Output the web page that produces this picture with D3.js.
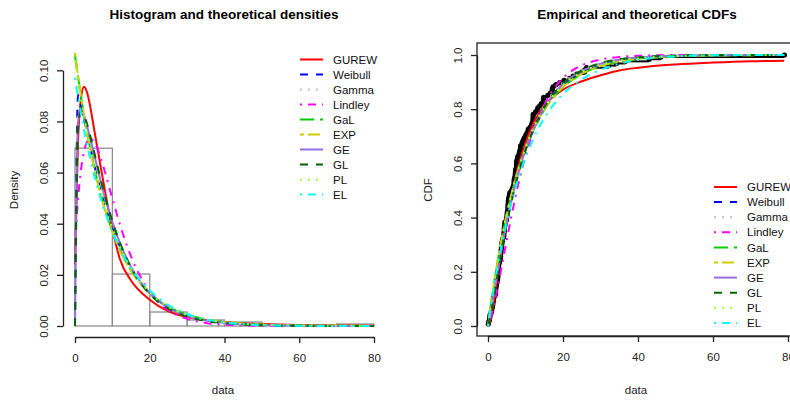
<!DOCTYPE html>
<meta charset="utf-8">
<style>
body { margin: 0; background: #fff; }
svg { font-family: "Liberation Sans", Arial, Helvetica, sans-serif; }
.axis path, .axis line { stroke: #222; stroke-width: 1.3px; }
.axis text { font-size: 11.5px; fill: #222; }
.title { font-size: 13.5px; font-weight: bold; }
.lab { font-size: 11.5px; fill: #222; }
.leg { font-size: 11.5px; fill: #111; }
.curve { fill: none; stroke-width: 2px; }
</style>
<body>
<script src="https://d3js.org/d3.v7.min.js"></script>
<script>

// remission times (months), 128 values
let remission = [0.08, 2.09, 3.48, 4.87, 6.94, 8.66, 13.11, 23.63, 0.20, 2.23, 3.52, 4.98, 6.97, 9.02,
  13.29, 0.40, 2.26, 3.57, 5.06, 7.09, 9.22, 13.80, 25.74, 0.50, 2.46, 3.64, 5.09, 7.26, 9.47, 14.24,
  25.82, 0.51, 2.54, 3.70, 5.17, 7.28, 9.74, 14.76, 26.31, 0.81, 2.62, 3.82, 5.32, 7.32, 10.06, 14.77,
  32.15, 2.64, 3.88, 5.32, 7.39, 10.34, 14.83, 34.26, 0.90, 2.69, 4.18, 5.34, 7.59, 10.66, 15.96, 36.66,
  1.05, 2.69, 4.23, 5.41, 7.62, 10.75, 16.62, 43.01, 1.19, 2.75, 4.26, 5.41, 7.63, 17.12, 46.12, 1.26,
  2.83, 4.33, 5.49, 7.66, 11.25, 17.14, 79.05, 1.35, 2.87, 5.62, 7.87, 11.64, 17.36, 1.40, 3.02, 4.34,
  5.71, 7.93, 11.79, 18.10, 1.46, 4.40, 5.85, 8.26, 11.98, 19.13, 1.76, 3.25, 4.50, 6.25, 8.37, 12.02,
  2.02, 3.31, 4.51, 6.54, 8.53, 12.03, 20.28, 2.02, 3.36, 6.76, 12.07, 21.73, 2.07, 3.36, 6.93, 8.65,
  12.63, 22.69];

let models = ["GUREW", "Weibull", "Gamma", "Lindley", "GaL", "EXP", "GE", "GL", "PL", "EL"];

let xTicks = [0, 20, 40, 60, 80];
let densTicks = [0, 0.02, 0.04, 0.06, 0.08, 0.10];
let cdfTicks = [0, 0.2, 0.4, 0.6, 0.8, 1.0];
let binEdges = [0, 10, 20, 30, 40, 50, 60, 70, 80];

// x positions where the fitted curves were read
let densX = [0, 0.8, 1.6, 2.4, 3.2, 4, 5, 6, 8, 10, 12, 15, 20, 25, 30, 35, 40, 50, 60, 70, 80];
let cdfX  = [0, 0.8, 1.6, 2.4, 3.2, 4, 5, 6, 8, 10, 12, 15, 20, 25, 30, 35, 40, 50, 60, 70, 79];

let densGUREW   = [0.024, 0.072, 0.089, 0.0936, 0.0915, 0.0864, 0.078, 0.0695, 0.053, 0.038, 0.0262, 0.0178, 0.0103, 0.0057, 0.0035, 0.0023, 0.0015, 0.0008, 0.0004, 0.0002, 0.0001];
let densWeibull = [0, 0.0903, 0.0863, 0.0811, 0.0757, 0.0704, 0.0640, 0.0580, 0.0474, 0.0385, 0.0311, 0.0225, 0.0130, 0.0074, 0.0042, 0.0024, 0.0013, 0.0004, 0.0001, 0.00004, 0.00001];
let densGamma   = [0, 0.0824, 0.0840, 0.0815, 0.0775, 0.0728, 0.0668, 0.0608, 0.0497, 0.0403, 0.0323, 0.0231, 0.0130, 0.0072, 0.0040, 0.0022, 0.0012, 0.00035, 0.0001, 0.00003, 0.00001];
let densLindley = [0.0321, 0.0494, 0.0610, 0.0682, 0.0720, 0.0734, 0.0723, 0.0694, 0.0603, 0.0498, 0.0398, 0.0272, 0.0134, 0.0062, 0.0028, 0.0012, 0.0005, 0.0001, 0, 0, 0];
let densGaL     = [0.1058, 0.0975, 0.0897, 0.0826, 0.0760, 0.0699, 0.0630, 0.0567, 0.0459, 0.0371, 0.0300, 0.0218, 0.0128, 0.0075, 0.0044, 0.0026, 0.0015, 0.0005, 0.0002, 0.0001, 0];
let densEXP     = [0.1068, 0.0981, 0.0900, 0.0827, 0.0759, 0.0697, 0.0626, 0.0563, 0.0455, 0.0367, 0.0296, 0.0215, 0.0126, 0.0074, 0.0043, 0.0025, 0.0015, 0.0005, 0.0002, 0.0001, 0];
let densGE      = [0, 0.0797, 0.0833, 0.0817, 0.0782, 0.0738, 0.0678, 0.0618, 0.0504, 0.0407, 0.0325, 0.0231, 0.0128, 0.0071, 0.0039, 0.0021, 0.0012, 0.0003, 0.0001, 0, 0];
let densGL      = [0, 0.0770, 0.0838, 0.0826, 0.0792, 0.0748, 0.0688, 0.0627, 0.0510, 0.0410, 0.0326, 0.0228, 0.0125, 0.0068, 0.0037, 0.0020, 0.0011, 0.0003, 0.0001, 0, 0];
let densPL      = [0.1040, 0.0962, 0.0890, 0.0823, 0.0761, 0.0703, 0.0636, 0.0575, 0.0468, 0.0381, 0.0310, 0.0226, 0.0131, 0.0075, 0.0043, 0.0025, 0.0014, 0.0005, 0.0002, 0.0001, 0];
let densEL      = [0.0970, 0.0898, 0.0831, 0.0769, 0.0711, 0.0658, 0.0597, 0.0542, 0.0446, 0.0368, 0.0303, 0.0226, 0.0139, 0.0082, 0.0047, 0.0026, 0.0014, 0.0004, 0.0001, 0, 0];

let cdfGUREW   = [0, 0.03, 0.095, 0.17, 0.245, 0.315, 0.395, 0.465, 0.585, 0.675, 0.745, 0.812, 0.872, 0.903, 0.925, 0.943, 0.953, 0.965, 0.972, 0.977, 0.979];
let cdfWeibull = [0, 0.072, 0.1425, 0.209, 0.272, 0.331, 0.398, 0.459, 0.564, 0.650, 0.719, 0.799, 0.886, 0.935, 0.964, 0.980, 0.989, 0.9965, 0.999, 0.9997, 1];
let cdfGamma   = [0, 0.067, 0.134, 0.200, 0.264, 0.324, 0.393, 0.457, 0.567, 0.657, 0.729, 0.812, 0.899, 0.946, 0.972, 0.985, 0.992, 0.998, 0.9995, 1, 1];
let cdfLindley = [0, 0.033, 0.078, 0.129, 0.186, 0.244, 0.317, 0.388, 0.518, 0.628, 0.7175, 0.817, 0.915, 0.962, 0.983, 0.993, 0.997, 0.9995, 1, 1, 1];
let cdfGaL     = [0, 0.081, 0.156, 0.225, 0.288, 0.346, 0.412, 0.471, 0.572, 0.654, 0.72, 0.797, 0.881, 0.930, 0.959, 0.976, 0.986, 0.995, 0.998, 0.9995, 1];
let cdfEXP     = [0, 0.082, 0.157, 0.226, 0.29, 0.348, 0.414, 0.473, 0.574, 0.656, 0.722, 0.798, 0.882, 0.931, 0.959, 0.976, 0.986, 0.995, 0.998, 0.9994, 0.9998];
let cdfGE      = [0, 0.055, 0.121, 0.187, 0.251, 0.312, 0.383, 0.4475, 0.5595, 0.650, 0.723, 0.806, 0.893, 0.941, 0.968, 0.9825, 0.9905, 0.997, 0.9992, 0.9998, 1];
let cdfGL      = [0, 0.045, 0.11, 0.177, 0.242, 0.304, 0.376, 0.442, 0.556, 0.648, 0.722, 0.806, 0.895, 0.943, 0.970, 0.984, 0.991, 0.998, 0.9995, 1, 1];
let cdfPL      = [0, 0.08, 0.154, 0.222, 0.285, 0.343, 0.41, 0.47, 0.573, 0.657, 0.725, 0.804, 0.889, 0.937, 0.964, 0.979, 0.988, 0.996, 0.999, 1, 1];
let cdfEL      = [0, 0.0747, 0.144, 0.207, 0.267, 0.321, 0.384, 0.441, 0.54, 0.621, 0.688, 0.767, 0.856, 0.91, 0.945, 0.968, 0.982, 0.995, 0.999, 1, 1];

let densAll = [densGUREW, densWeibull, densGamma, densLindley, densGaL, densEXP, densGE, densGL, densPL, densEL];
let cdfAll = [cdfGUREW, cdfWeibull, cdfGamma, cdfLindley, cdfGaL, cdfEXP, cdfGE, cdfGL, cdfPL, cdfEL];

// R-ish colours and line types (lwd 2)
let colors = ["#ff0000", "#0000ff", "#bebebe", "#ff00ff", "#00cd00", "#cdcd00", "#9370db", "#006400", "#9aff30", "#00ffff"];
let dashes = ["none", "8,8", "2,6", "2,6,8,6", "14,6", "4,4,12,4", "none", "8,8", "2,6", "2,6,8,6"];

let svg = d3.select("body").append("svg")
	.attr("width", 790)
	.attr("height", 400);

/* ------- LEFT: HISTOGRAM AND DENSITIES -------*/
let xL = d3.scaleLinear().domain([0, 80]).range([75, 374]);
let yL = d3.scaleLinear().domain([0, 0.1]).range([326, 70.3]);

let bins = d3.bin().domain([0, 80]).thresholds(binEdges.slice(1, -1))(remission);
let n = remission.length;

svg.append("g").selectAll("rect")
	.data(bins)
	.enter().append("rect")
	.attr("x", d => xL(d.x0))
	.attr("width", d => xL(d.x1) - xL(d.x0))
	.attr("y", d => yL(d.length / (n * (d.x1 - d.x0))))
	.attr("height", d => yL(0) - yL(d.length / (n * (d.x1 - d.x0))))
	.attr("fill", "none")
	.attr("stroke", "#8f8f8f")
	.attr("stroke-width", 1.3);

let densLine = d3.line()
	.x(d => xL(d[0]))
	.y(d => yL(d[1]))
	.curve(d3.curveMonotoneX);

svg.append("g").selectAll("path")
	.data(densAll)
	.enter().append("path")
	.attr("class", "curve")
	.attr("d", vals => densLine(densX.map((x, i) => [x, vals[i]])))
	.attr("stroke", (d, i) => colors[i])
	.attr("stroke-dasharray", (d, i) => dashes[i]);

let axL = svg.append("g").attr("class", "axis")
	.attr("transform", "translate(0,337)")
	.call(d3.axisBottom(xL).tickValues(xTicks).tickSize(6).tickSizeOuter(0));
axL.selectAll("text").attr("y", 17);

let ayL = svg.append("g").attr("class", "axis")
	.attr("transform", "translate(63,0)")
	.call(d3.axisLeft(yL).tickValues(densTicks).tickSize(6).tickSizeOuter(0).tickFormat(d3.format(".2f")));
ayL.selectAll("text")
	.attr("transform", "rotate(-90)")
	.attr("x", 0).attr("y", -15).attr("dy", 0)
	.attr("text-anchor", "middle");

svg.append("text").attr("class", "title")
	.attr("x", 224).attr("y", 19).attr("text-anchor", "middle")
	.text("Histogram and theoretical densities");
svg.append("text").attr("class", "lab")
	.attr("x", 223).attr("y", 394).attr("text-anchor", "middle")
	.text("data");
svg.append("text").attr("class", "lab")
	.attr("transform", "translate(18,190) rotate(-90)")
	.attr("text-anchor", "middle")
	.text("Density");

/* ------- RIGHT: EMPIRICAL AND THEORETICAL CDFs -------*/
let xR = d3.scaleLinear().domain([0, 80]).range([488, 788]);
let yR = d3.scaleLinear().domain([0, 1]).range([326, 55]);

let sorted = remission.slice().sort(d3.ascending);
let ecdf = sorted.map((x, i) => [x, (i + 1) / n]);

svg.append("g").selectAll("line")
	.data(ecdf.slice(0, -1))
	.enter().append("line")
	.attr("x1", d => xR(d[0]))
	.attr("x2", (d, i) => xR(ecdf[i + 1][0]))
	.attr("y1", d => yR(d[1]))
	.attr("y2", d => yR(d[1]))
	.attr("stroke", "#000")
	.attr("stroke-width", 2);

svg.append("g").selectAll("circle")
	.data(ecdf)
	.enter().append("circle")
	.attr("cx", d => xR(d[0]))
	.attr("cy", d => yR(d[1]))
	.attr("r", 2.6)
	.attr("fill", "#000");

let cdfLine = d3.line()
	.x(d => xR(d[0]))
	.y(d => yR(d[1]))
	.curve(d3.curveMonotoneX);

svg.append("g").selectAll("path")
	.data(cdfAll)
	.enter().append("path")
	.attr("class", "curve")
	.attr("d", vals => cdfLine(cdfX.map((x, i) => [x, vals[i]])))
	.attr("stroke", (d, i) => colors[i])
	.attr("stroke-dasharray", (d, i) => dashes[i]);

svg.append("rect")
	.attr("x", 477).attr("y", 43)
	.attr("width", 320).attr("height", 293)
	.attr("fill", "none")
	.attr("stroke", "#222")
	.attr("stroke-width", 1.3);

let axR = svg.append("g").attr("class", "axis")
	.attr("transform", "translate(0,336)")
	.call(d3.axisBottom(xR).tickValues(xTicks).tickSize(6).tickSizeOuter(0));
axR.selectAll("text").attr("y", 17);

let ayR = svg.append("g").attr("class", "axis")
	.attr("transform", "translate(477,0)")
	.call(d3.axisLeft(yR).tickValues(cdfTicks).tickSize(6).tickSizeOuter(0).tickFormat(d3.format(".1f")));
ayR.selectAll("text")
	.attr("transform", "rotate(-90)")
	.attr("x", 0).attr("y", -15).attr("dy", 0)
	.attr("text-anchor", "middle");

svg.append("text").attr("class", "title")
	.attr("x", 637).attr("y", 19).attr("text-anchor", "middle")
	.text("Empirical and theoretical CDFs");
svg.append("text").attr("class", "lab")
	.attr("x", 636).attr("y", 394).attr("text-anchor", "middle")
	.text("data");
svg.append("text").attr("class", "lab")
	.attr("transform", "translate(432,190) rotate(-90)")
	.attr("text-anchor", "middle")
	.text("CDF");

/* ------- LEGENDS -------*/
function legend(x0, y0, step) {
	let g = svg.append("g");
	let row = g.selectAll("g")
		.data(models)
		.enter().append("g")
		.attr("transform", (d, i) => "translate(" + x0 + "," + (y0 + i * step) + ")");
	row.append("line")
		.attr("x1", 0).attr("x2", 23)
		.attr("stroke", (d, i) => colors[i])
		.attr("stroke-width", 2)
		.attr("stroke-dasharray", (d, i) => dashes[i]);
	row.append("text")
		.attr("class", "leg")
		.attr("x", 33).attr("dy", "0.36em")
		.text(d => d);
}

legend(300, 59.5, 15);
legend(714, 187, 15.1);

</script>
</body>
